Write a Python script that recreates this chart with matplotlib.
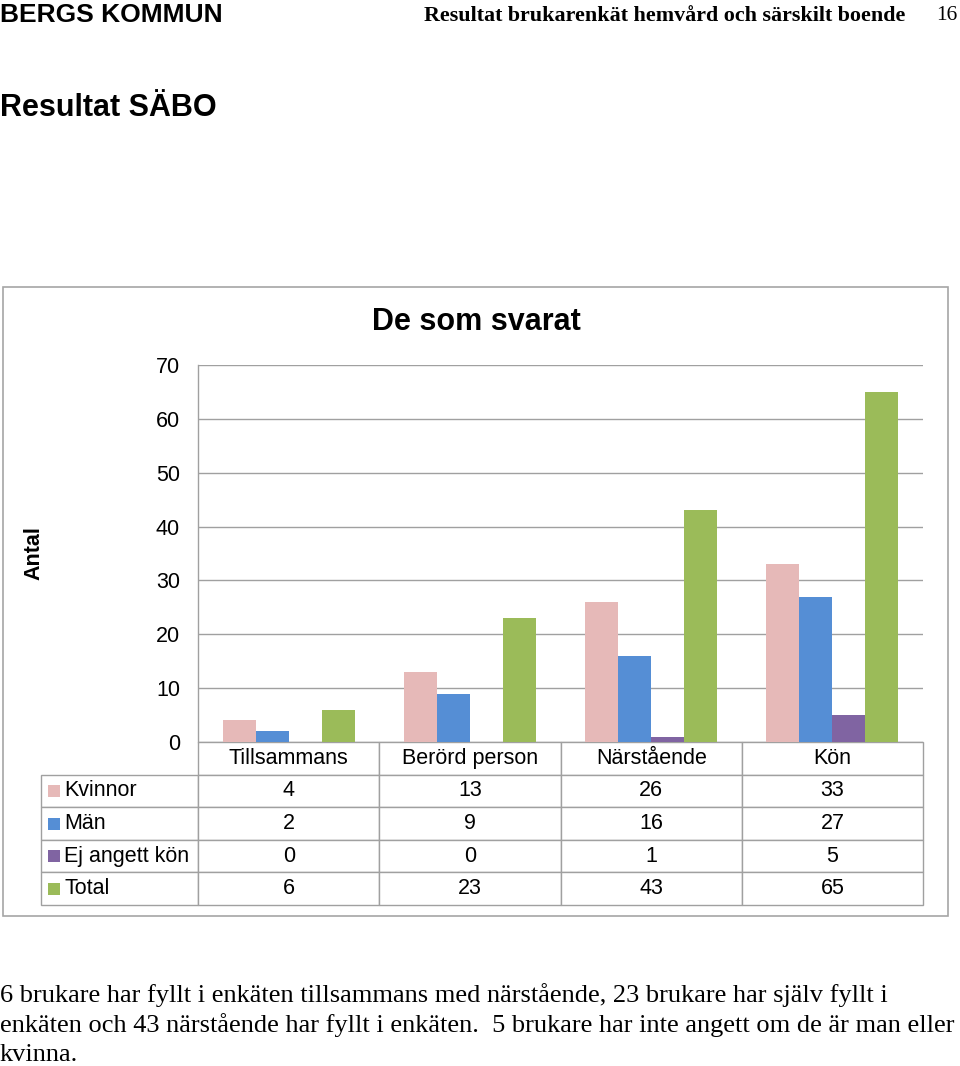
import matplotlib
matplotlib.use("Agg")
import matplotlib.pyplot as plt
from matplotlib.table import Table
from matplotlib.patches import Rectangle

plt.rcParams["font.family"] = ["Liberation Sans", "DejaVu Sans"]

# data
categories = ["Tillsammans", "Berörd person", "Närstående", "Kön"]
series_names = ["Kvinnor", "Män", "Ej angett kön", "Total"]
kvinnor = [4, 13, 26, 33]
man = [2, 9, 16, 27]
ej_angett = [0, 0, 1, 5]
total = [6, 23, 43, 65]
series_values = [kvinnor, man, ej_angett, total]
colors = ["#E6B9B8", "#558ED5", "#8064A2", "#9BBB59"]
yticks = [0, 10, 20, 30, 40, 50, 60, 70]

W, H = 960, 1066
fig = plt.figure(figsize=(W / 100, H / 100), dpi=100)


def fx(px):
    return px / W


def fy(py):
    return 1 - py / H


# page header
fig.text(fx(0), fy(15), "BERGS KOMMUN", fontsize=19, fontweight="bold",
         ha="left", va="center")
fig.text(fx(424), fy(16), "Resultat brukarenkät hemvård och särskilt boende",
         family="Liberation Serif", fontsize=15.8, fontweight="bold",
         ha="left", va="center")
fig.text(fx(957), fy(16), "16", family="Liberation Serif", fontsize=15.5,
         ha="right", va="center")
fig.text(fx(0), fy(108), "Resultat SÄBO", fontsize=22, fontweight="bold",
         ha="left", va="center")

# chart frame
fig.patches.append(Rectangle((fx(3), fy(916)), fx(945), (916 - 287) / H,
                             transform=fig.transFigure, fill=False,
                             edgecolor="#A6A6A6", linewidth=1.2))
fig.text(fx(476), fy(322), "De som svarat", fontsize=22, fontweight="bold",
         ha="center", va="center")

# plot area
ax_l, ax_r, ax_t, ax_b = 198, 923, 365, 742
ax = fig.add_axes([fx(ax_l), fy(ax_b), fx(ax_r - ax_l), (ax_b - ax_t) / H])
n = len(categories)
bw = 0.182
for k, (vals, col) in enumerate(zip(series_values, colors)):
    xs = [i + 0.5 + (k - 1.5) * bw for i in range(n)]
    ax.bar(xs, vals, width=bw, color=col, zorder=3)

ax.set_xlim(0, n)
ax.set_ylim(0, 70)
ax.set_yticks(yticks)
ax.tick_params(axis="y", length=0, pad=13, labelsize=15.5)
ax.set_xticks([])
ax.yaxis.grid(True, color="#A0A0A0", linewidth=1.0)
ax.set_axisbelow(True)
for s in ["top", "right", "bottom"]:
    ax.spines[s].set_visible(False)
ax.spines["left"].set_color("#A0A0A0")
ax.spines["left"].set_linewidth(1.0)
ax.set_ylabel("Antal", fontsize=15.5, fontweight="bold")
ax.yaxis.set_label_coords((44 - ax_l) / (ax_r - ax_l), 0.5)

# data table under the axes
ax_w = ax_r - ax_l
ax_h = ax_b - ax_t
tb_left, tb_bottom = 41, 905
bbox = [(tb_left - ax_l) / ax_w, -(tb_bottom - ax_b) / ax_h,
        (ax_r - tb_left) / ax_w, (tb_bottom - ax_b) / ax_h]
label_w, col_w = 157, 181
rows = len(series_names) + 1
tb = Table(ax, bbox=bbox)
edge = "#A0A0A0"
for j, cat in enumerate(categories):
    tb.add_cell(0, j + 1, col_w, 1, text=cat, loc="center", edgecolor=edge)
for r, (name, vals) in enumerate(zip(series_names, series_values), start=1):
    c = tb.add_cell(r, 0, label_w, 1, text=name, loc="left", edgecolor=edge)
    c.PAD = 23 / label_w
    for j, v in enumerate(vals):
        tb.add_cell(r, j + 1, col_w, 1, text=str(v), loc="center", edgecolor=edge)
tb.auto_set_font_size(False)
tb.set_fontsize(15.5)
for cell in tb.get_celld().values():
    cell.set_linewidth(1.0)
ax.add_table(tb)

# legend keys in the row label cells
row_h = bbox[3] / rows
key_x = bbox[0] + (13 / (ax_r - tb_left)) * bbox[2]
for r, col in enumerate(colors, start=1):
    key_y = bbox[1] + bbox[3] - (r + 0.5) * row_h
    ax.scatter([key_x], [key_y], marker="s", s=72, color=col,
               transform=ax.transAxes, clip_on=False, zorder=5, linewidths=0)

# text below chart
lines = [
    "6 brukare har fyllt i enkäten tillsammans med närstående, 23 brukare har själv fyllt i",
    "enkäten och 43 närstående har fyllt i enkäten.  5 brukare har inte angett om de är man eller",
    "kvinna.",
]
for i, line in enumerate(lines):
    fig.text(fx(0), fy(995 + 30 * i), line, family="Liberation Serif",
             fontsize=19, ha="left", va="center")

fig.savefig("out.png", dpi=100)
